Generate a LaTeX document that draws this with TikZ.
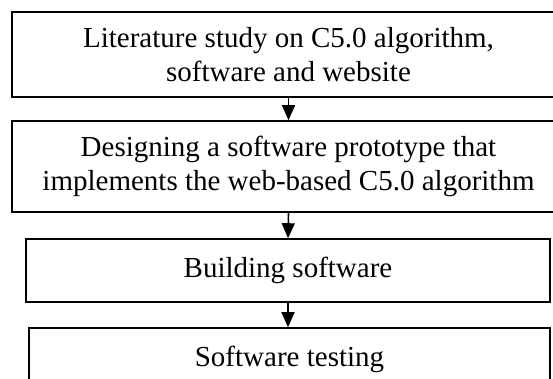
\documentclass[tikz,border=0pt]{standalone}
\usepackage{fontspec}
\setmainfont{Liberation Serif}
\usetikzlibrary{arrows.meta}
\begin{document}
\begin{tikzpicture}[x=1pt,y=-1pt,
  box/.style={draw,line width=1.6pt,inner sep=0pt,align=center,
    font=\fontsize{29}{34}\selectfont},
  arr/.style={line width=1.6pt,-{Triangle[length=15pt,width=13pt]}}]
\useasboundingbox (0,0) rectangle (553,378);
\clip (0,0) rectangle (553,378);
\node[box,minimum width=553pt,minimum height=85pt] (b1) at (288.5,54.5)
  {Literature study on C5.0 algorithm,\\software and website};
\node[box,minimum width=553pt,minimum height=91pt] (b2) at (288.5,166.5)
  {Designing a software prototype that\\implements the web-based C5.0 algorithm};
\node[box,minimum width=524pt,minimum height=63pt] (b3) at (288,270.5)
  {Building software};
\node[box,minimum width=521pt,minimum height=63pt] (b4) at (289.5,359.5)
  {Software testing};
\draw[arr] (b1.south) -- (b2.north);
\draw[arr] (b2.south) -- (b3.north);
\draw[arr] (b3.south) -- (b3.south |- b4.north);
\end{tikzpicture}
\end{document}
